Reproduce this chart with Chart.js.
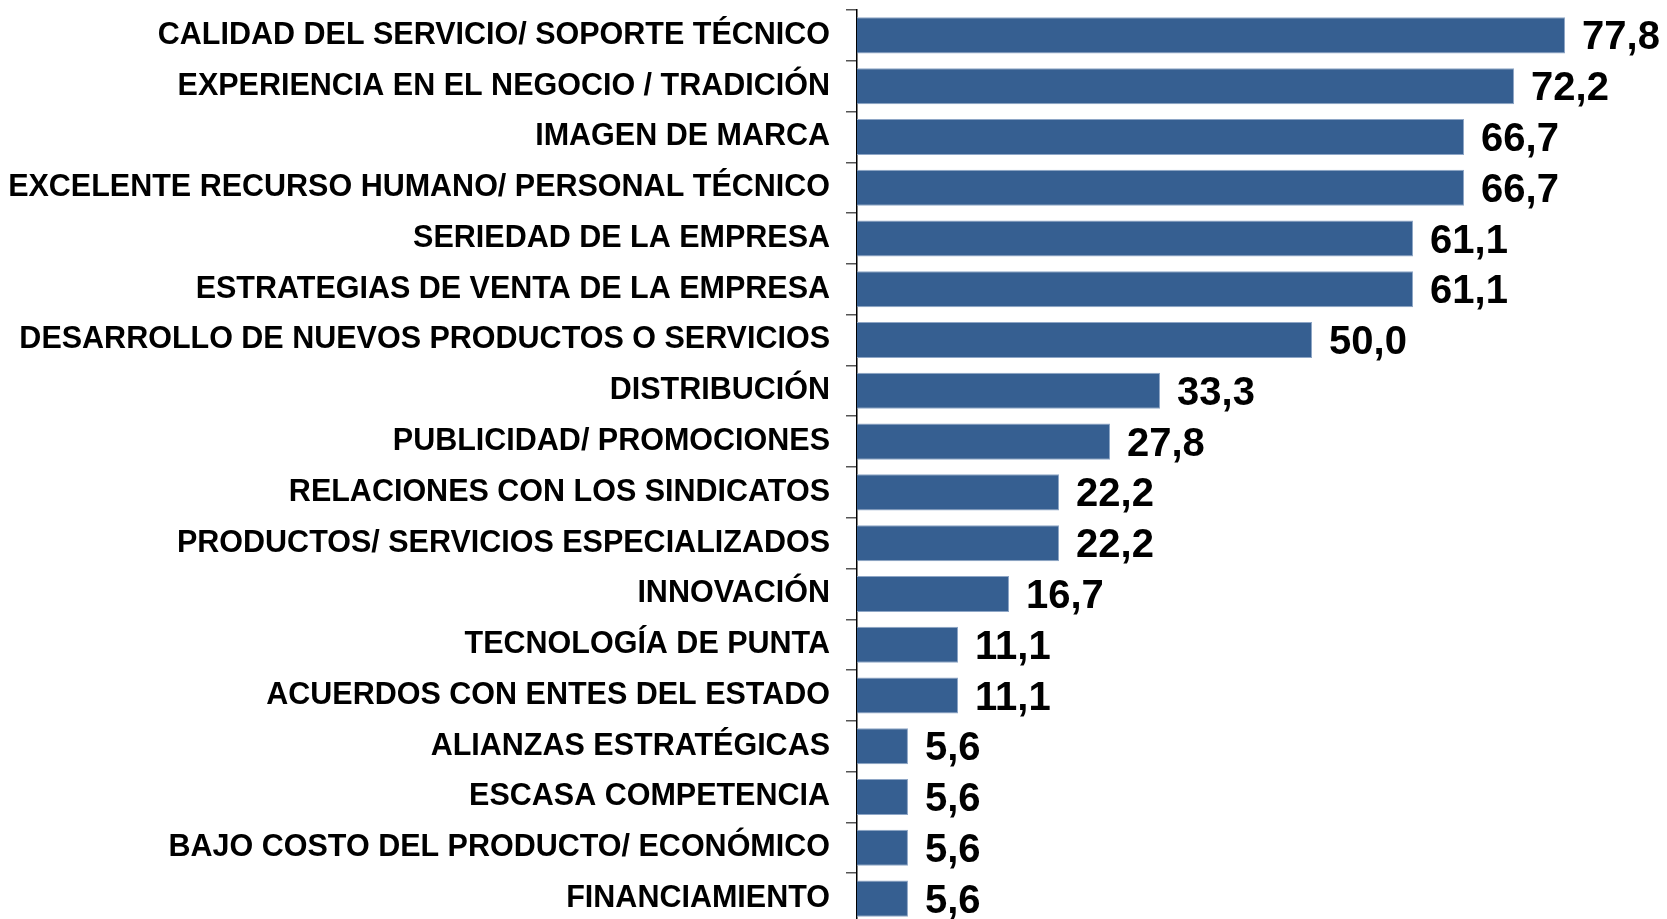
<!DOCTYPE html>
<html>
<head>
<meta charset="utf-8">
<script src="https://cdn.jsdelivr.net/npm/chart.js@4/dist/chart.umd.min.js"></script>
<style>
  html, body { margin: 0; padding: 0; background: #fff; overflow: hidden; }
  #wrap { width: 1667px; height: 924px; position: relative; }
</style>
</head>
<body>
<div id="wrap"><canvas id="barChart"></canvas></div>
<script>
// categories and values
const categories = [
    'CALIDAD DEL SERVICIO/ SOPORTE TÉCNICO',
    'EXPERIENCIA EN EL NEGOCIO / TRADICIÓN',
    'IMAGEN DE MARCA',
    'EXCELENTE RECURSO HUMANO/ PERSONAL TÉCNICO',
    'SERIEDAD DE LA EMPRESA',
    'ESTRATEGIAS DE VENTA DE LA EMPRESA',
    'DESARROLLO DE NUEVOS PRODUCTOS O SERVICIOS',
    'DISTRIBUCIÓN',
    'PUBLICIDAD/ PROMOCIONES',
    'RELACIONES CON LOS SINDICATOS',
    'PRODUCTOS/ SERVICIOS ESPECIALIZADOS',
    'INNOVACIÓN',
    'TECNOLOGÍA DE PUNTA',
    'ACUERDOS CON ENTES DEL ESTADO',
    'ALIANZAS ESTRATÉGICAS',
    'ESCASA COMPETENCIA',
    'BAJO COSTO DEL PRODUCTO/ ECONÓMICO',
    'FINANCIAMIENTO'
];
const percentages = [77.8, 72.2, 66.7, 66.7, 61.1, 61.1, 50.0, 33.3, 27.8, 22.2, 22.2, 16.7, 11.1, 11.1, 5.6, 5.6, 5.6, 5.6];

// draws the value next to each bar
const valueLabels = {
    id: 'valueLabels',
    afterDatasetsDraw(chart) {
        const ctx = chart.ctx;
        const meta = chart.getDatasetMeta(0);
        ctx.save();
        ctx.font = 'bold 40px "Liberation Sans", Arial, sans-serif';
        ctx.fillStyle = '#000';
        ctx.textAlign = 'left';
        ctx.textBaseline = 'middle';
        meta.data.forEach((bar, i) => {
            const txt = percentages[i].toFixed(1).replace('.', ',');
            ctx.fillText(txt, bar.x + 17, bar.y + 3);
        });
        ctx.restore();
    }
};

const ctx = document.getElementById('barChart').getContext('2d');
new Chart(ctx, {
    type: 'bar',
    data: {
        labels: categories,
        datasets: [{
            data: percentages,
            backgroundColor: '#365f91',
            borderColor: '#8ea6c6',
            borderWidth: 1,
            barPercentage: 0.71,
            categoryPercentage: 1.0
        }]
    },
    options: {
        indexAxis: 'y',
        responsive: true,
        maintainAspectRatio: false,
        animation: false,
        layout: { padding: { top: 10, left: 0, right: 0, bottom: 0 } },
        plugins: {
            legend: { display: false },
            tooltip: { enabled: false }
        },
        scales: {
            x: {
                display: false,
                min: 0,
                max: 89
            },
            y: {
                afterFit: scale => {
                    scale.width = 857;
                    scale.paddingTop = 0;
                    scale.paddingBottom = 0;
                },
                border: { display: true, color: '#000', width: 1.5 },
                grid: {
                    drawOnChartArea: false,
                    color: '#555',
                    tickLength: 11,
                    lineWidth: 1.5
                },
                ticks: {
                    color: '#000',
                    padding: 16,
                    font: { family: '"Liberation Sans", Arial, sans-serif', size: 30.5, weight: 'bold' }
                }
            }
        }
    },
    plugins: [valueLabels]
});
</script>
</body>
</html>
